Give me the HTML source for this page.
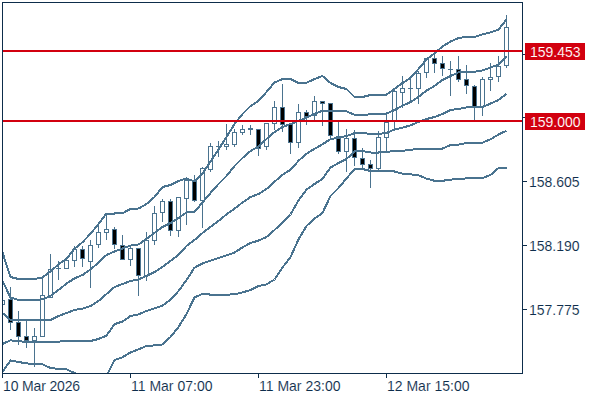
<!DOCTYPE html>
<html><head><meta charset="utf-8"><title>chart</title>
<style>
html,body{margin:0;padding:0;background:#fff;}
body{width:600px;height:400px;position:relative;overflow:hidden;font-family:"Liberation Sans",sans-serif;}
.t{position:absolute;font-size:14px;line-height:16px;height:16px;color:#0d2d4b;white-space:nowrap;}
.t{-webkit-text-stroke:0.1px #fff;}
.w{color:#fff;-webkit-text-stroke:0.1px #d2000f;}
</style></head><body>
<svg width="600" height="400" viewBox="0 0 600 400" style="position:absolute;left:0;top:0"><defs><clipPath id="cp"><rect x="2" y="2" width="521" height="372"/></clipPath></defs><g clip-path="url(#cp)"><g shape-rendering="crispEdges"><rect x="2" y="296" width="1" height="13" fill="#4a738f"/><rect x="0" y="300" width="5" height="5" fill="#4a738f"/><rect x="1" y="301" width="3" height="3" fill="#ffffff"/><rect x="10" y="287" width="1" height="43" fill="#4a738f"/><rect x="8" y="299" width="5" height="24" fill="#4a738f"/><rect x="9" y="300" width="3" height="22" fill="#000000"/><rect x="18" y="311" width="1" height="34" fill="#4a738f"/><rect x="16" y="322" width="5" height="15" fill="#4a738f"/><rect x="17" y="323" width="3" height="13" fill="#000000"/><rect x="26" y="319" width="1" height="29" fill="#4a738f"/><rect x="24" y="336" width="5" height="5" fill="#4a738f"/><rect x="25" y="337" width="3" height="3" fill="#000000"/><rect x="34" y="328" width="1" height="39" fill="#4a738f"/><rect x="32" y="336" width="5" height="5" fill="#4a738f"/><rect x="33" y="337" width="3" height="3" fill="#ffffff"/><rect x="42" y="277" width="1" height="60" fill="#4a738f"/><rect x="40" y="295" width="5" height="42" fill="#4a738f"/><rect x="41" y="296" width="3" height="40" fill="#ffffff"/><rect x="50" y="254" width="1" height="44" fill="#4a738f"/><rect x="48" y="269" width="5" height="29" fill="#4a738f"/><rect x="49" y="270" width="3" height="27" fill="#ffffff"/><rect x="58" y="261" width="1" height="19" fill="#4a738f"/><rect x="56" y="268" width="5" height="1" fill="#4a738f"/><rect x="66" y="260" width="1" height="9" fill="#4a738f"/><rect x="64" y="260" width="5" height="9" fill="#4a738f"/><rect x="65" y="261" width="3" height="7" fill="#ffffff"/><rect x="74" y="246" width="1" height="21" fill="#4a738f"/><rect x="72" y="249" width="5" height="12" fill="#4a738f"/><rect x="73" y="250" width="3" height="10" fill="#ffffff"/><rect x="82" y="246" width="1" height="21" fill="#4a738f"/><rect x="80" y="249" width="5" height="10" fill="#4a738f"/><rect x="81" y="250" width="3" height="8" fill="#000000"/><rect x="90" y="240" width="1" height="48" fill="#4a738f"/><rect x="88" y="245" width="5" height="17" fill="#4a738f"/><rect x="89" y="246" width="3" height="15" fill="#ffffff"/><rect x="98" y="224" width="1" height="24" fill="#4a738f"/><rect x="96" y="232" width="5" height="13" fill="#4a738f"/><rect x="97" y="233" width="3" height="11" fill="#ffffff"/><rect x="106" y="214" width="1" height="26" fill="#4a738f"/><rect x="104" y="229" width="5" height="4" fill="#4a738f"/><rect x="105" y="230" width="3" height="2" fill="#ffffff"/><rect x="114" y="227" width="1" height="22" fill="#4a738f"/><rect x="112" y="229" width="5" height="16" fill="#4a738f"/><rect x="113" y="230" width="3" height="14" fill="#000000"/><rect x="122" y="235" width="1" height="25" fill="#4a738f"/><rect x="120" y="245" width="5" height="15" fill="#4a738f"/><rect x="121" y="246" width="3" height="13" fill="#000000"/><rect x="130" y="246" width="1" height="20" fill="#4a738f"/><rect x="128" y="248" width="5" height="12" fill="#4a738f"/><rect x="129" y="249" width="3" height="10" fill="#ffffff"/><rect x="138" y="248" width="1" height="48" fill="#4a738f"/><rect x="136" y="248" width="5" height="28" fill="#4a738f"/><rect x="137" y="249" width="3" height="26" fill="#000000"/><rect x="146" y="232" width="1" height="49" fill="#4a738f"/><rect x="144" y="240" width="5" height="36" fill="#4a738f"/><rect x="145" y="241" width="3" height="34" fill="#ffffff"/><rect x="154" y="206" width="1" height="39" fill="#4a738f"/><rect x="152" y="213" width="5" height="28" fill="#4a738f"/><rect x="153" y="214" width="3" height="26" fill="#ffffff"/><rect x="162" y="199" width="1" height="23" fill="#4a738f"/><rect x="160" y="201" width="5" height="12" fill="#4a738f"/><rect x="161" y="202" width="3" height="10" fill="#ffffff"/><rect x="170" y="199" width="1" height="37" fill="#4a738f"/><rect x="168" y="201" width="5" height="30" fill="#4a738f"/><rect x="169" y="202" width="3" height="28" fill="#000000"/><rect x="178" y="197" width="1" height="40" fill="#4a738f"/><rect x="176" y="197" width="5" height="34" fill="#4a738f"/><rect x="177" y="198" width="3" height="32" fill="#ffffff"/><rect x="186" y="180" width="1" height="45" fill="#4a738f"/><rect x="184" y="180" width="5" height="19" fill="#4a738f"/><rect x="185" y="181" width="3" height="17" fill="#ffffff"/><rect x="194" y="175" width="1" height="27" fill="#4a738f"/><rect x="192" y="181" width="5" height="20" fill="#4a738f"/><rect x="193" y="182" width="3" height="18" fill="#000000"/><rect x="202" y="167" width="1" height="61" fill="#4a738f"/><rect x="200" y="168" width="5" height="33" fill="#4a738f"/><rect x="201" y="169" width="3" height="31" fill="#ffffff"/><rect x="210" y="143" width="1" height="29" fill="#4a738f"/><rect x="208" y="146" width="5" height="24" fill="#4a738f"/><rect x="209" y="147" width="3" height="22" fill="#ffffff"/><rect x="218" y="141" width="1" height="16" fill="#4a738f"/><rect x="216" y="146" width="5" height="1" fill="#4a738f"/><rect x="226" y="124" width="1" height="26" fill="#4a738f"/><rect x="224" y="144" width="5" height="3" fill="#4a738f"/><rect x="225" y="145" width="3" height="1" fill="#ffffff"/><rect x="234" y="129" width="1" height="18" fill="#4a738f"/><rect x="232" y="132" width="5" height="13" fill="#4a738f"/><rect x="233" y="133" width="3" height="11" fill="#ffffff"/><rect x="242" y="125" width="1" height="10" fill="#4a738f"/><rect x="240" y="129" width="5" height="4" fill="#4a738f"/><rect x="241" y="130" width="3" height="2" fill="#ffffff"/><rect x="250" y="125" width="1" height="10" fill="#4a738f"/><rect x="248" y="128" width="5" height="2" fill="#4a738f"/><rect x="258" y="129" width="1" height="27" fill="#4a738f"/><rect x="256" y="129" width="5" height="20" fill="#4a738f"/><rect x="257" y="130" width="3" height="18" fill="#000000"/><rect x="266" y="123" width="1" height="27" fill="#4a738f"/><rect x="264" y="123" width="5" height="24" fill="#4a738f"/><rect x="265" y="124" width="3" height="22" fill="#ffffff"/><rect x="274" y="101" width="1" height="29" fill="#4a738f"/><rect x="272" y="107" width="5" height="17" fill="#4a738f"/><rect x="273" y="108" width="3" height="15" fill="#ffffff"/><rect x="282" y="84" width="1" height="48" fill="#4a738f"/><rect x="280" y="107" width="5" height="18" fill="#4a738f"/><rect x="281" y="108" width="3" height="16" fill="#000000"/><rect x="290" y="124" width="1" height="30" fill="#4a738f"/><rect x="288" y="124" width="5" height="19" fill="#4a738f"/><rect x="289" y="125" width="3" height="17" fill="#000000"/><rect x="298" y="104" width="1" height="44" fill="#4a738f"/><rect x="296" y="112" width="5" height="31" fill="#4a738f"/><rect x="297" y="113" width="3" height="29" fill="#ffffff"/><rect x="306" y="110" width="1" height="15" fill="#4a738f"/><rect x="304" y="112" width="5" height="5" fill="#4a738f"/><rect x="305" y="113" width="3" height="3" fill="#000000"/><rect x="314" y="96" width="1" height="25" fill="#4a738f"/><rect x="312" y="101" width="5" height="15" fill="#4a738f"/><rect x="313" y="102" width="3" height="13" fill="#ffffff"/><rect x="322" y="101" width="1" height="25" fill="#4a738f"/><rect x="320" y="101" width="5" height="3" fill="#4a738f"/><rect x="321" y="102" width="3" height="1" fill="#000000"/><rect x="330" y="103" width="1" height="36" fill="#4a738f"/><rect x="328" y="103" width="5" height="33" fill="#4a738f"/><rect x="329" y="104" width="3" height="31" fill="#000000"/><rect x="338" y="122" width="1" height="32" fill="#4a738f"/><rect x="336" y="136" width="5" height="16" fill="#4a738f"/><rect x="337" y="137" width="3" height="14" fill="#000000"/><rect x="346" y="129" width="1" height="43" fill="#4a738f"/><rect x="344" y="138" width="5" height="14" fill="#4a738f"/><rect x="345" y="139" width="3" height="12" fill="#ffffff"/><rect x="354" y="130" width="1" height="36" fill="#4a738f"/><rect x="352" y="138" width="5" height="20" fill="#4a738f"/><rect x="353" y="139" width="3" height="18" fill="#000000"/><rect x="362" y="148" width="1" height="21" fill="#4a738f"/><rect x="360" y="158" width="5" height="7" fill="#4a738f"/><rect x="361" y="159" width="3" height="5" fill="#000000"/><rect x="370" y="160" width="1" height="28" fill="#4a738f"/><rect x="368" y="164" width="5" height="5" fill="#4a738f"/><rect x="369" y="165" width="3" height="3" fill="#000000"/><rect x="378" y="131" width="1" height="41" fill="#4a738f"/><rect x="376" y="137" width="5" height="32" fill="#4a738f"/><rect x="377" y="138" width="3" height="30" fill="#ffffff"/><rect x="386" y="112" width="1" height="40" fill="#4a738f"/><rect x="384" y="122" width="5" height="16" fill="#4a738f"/><rect x="385" y="123" width="3" height="14" fill="#ffffff"/><rect x="394" y="89" width="1" height="41" fill="#4a738f"/><rect x="392" y="91" width="5" height="31" fill="#4a738f"/><rect x="393" y="92" width="3" height="29" fill="#ffffff"/><rect x="402" y="76" width="1" height="32" fill="#4a738f"/><rect x="400" y="88" width="5" height="5" fill="#4a738f"/><rect x="401" y="89" width="3" height="3" fill="#ffffff"/><rect x="410" y="78" width="1" height="25" fill="#4a738f"/><rect x="408" y="88" width="5" height="1" fill="#4a738f"/><rect x="418" y="71" width="1" height="33" fill="#4a738f"/><rect x="416" y="73" width="5" height="16" fill="#4a738f"/><rect x="417" y="74" width="3" height="14" fill="#ffffff"/><rect x="426" y="58" width="1" height="20" fill="#4a738f"/><rect x="424" y="58" width="5" height="15" fill="#4a738f"/><rect x="425" y="59" width="3" height="13" fill="#ffffff"/><rect x="434" y="53" width="1" height="20" fill="#4a738f"/><rect x="432" y="58" width="5" height="6" fill="#4a738f"/><rect x="433" y="59" width="3" height="4" fill="#000000"/><rect x="442" y="56" width="1" height="20" fill="#4a738f"/><rect x="440" y="63" width="5" height="6" fill="#4a738f"/><rect x="441" y="64" width="3" height="4" fill="#000000"/><rect x="450" y="61" width="1" height="35" fill="#4a738f"/><rect x="448" y="69" width="5" height="1" fill="#4a738f"/><rect x="458" y="56" width="1" height="26" fill="#4a738f"/><rect x="456" y="69" width="5" height="11" fill="#4a738f"/><rect x="457" y="70" width="3" height="9" fill="#000000"/><rect x="466" y="65" width="1" height="29" fill="#4a738f"/><rect x="464" y="79" width="5" height="7" fill="#4a738f"/><rect x="465" y="80" width="3" height="5" fill="#000000"/><rect x="474" y="85" width="1" height="35" fill="#4a738f"/><rect x="472" y="86" width="5" height="21" fill="#4a738f"/><rect x="473" y="87" width="3" height="19" fill="#000000"/><rect x="482" y="77" width="1" height="39" fill="#4a738f"/><rect x="480" y="79" width="5" height="28" fill="#4a738f"/><rect x="481" y="80" width="3" height="26" fill="#ffffff"/><rect x="490" y="63" width="1" height="28" fill="#4a738f"/><rect x="488" y="77" width="5" height="3" fill="#4a738f"/><rect x="489" y="78" width="3" height="1" fill="#ffffff"/><rect x="498" y="56" width="1" height="26" fill="#4a738f"/><rect x="496" y="66" width="5" height="11" fill="#4a738f"/><rect x="497" y="67" width="3" height="9" fill="#ffffff"/><rect x="506" y="15" width="1" height="53" fill="#4a738f"/><rect x="504" y="27" width="5" height="39" fill="#4a738f"/><rect x="505" y="28" width="3" height="37" fill="#ffffff"/></g><g fill="none" stroke="#4a738f" stroke-width="2" stroke-linejoin="round" stroke-linecap="butt" shape-rendering="crispEdges"><polyline points="2.5,252.5 10.5,277 18.5,279 26.5,279 34.5,279 42.5,277.5 50.5,271.5 58.5,264.3 66.5,258.8 74.5,248.8 82.5,242.2 90.5,233.8 98.5,224 106.5,213.5 114.5,213.5 122.5,213.2 130.5,209 138.5,208.5 146.5,204 154.5,197 162.5,187 170.5,185 178.5,181 186.5,178.5 194.5,181.5 202.5,173.8 210.5,161.5 218.5,149.5 226.5,137 234.5,124 242.5,114 250.5,106 258.5,101 266.5,92 274.5,82.5 282.5,79 290.5,79 298.5,83 306.5,82.8 314.5,79 322.5,76 330.5,83 338.5,87 346.5,89 354.5,97 362.5,97 370.5,95 378.5,95 386.5,94.6 394.5,89 402.5,83 410.5,78 418.5,69 426.5,59.5 434.5,53.5 442.5,46.3 450.5,41.6 458.5,38 466.5,37 474.5,37 482.5,34.4 490.5,32.4 498.5,29.6 506.5,19.6"/><polyline points="2.5,281 10.5,297.5 18.5,300 26.5,300 34.5,300 42.5,299.4 50.5,296 58.5,290 66.5,283.6 74.5,278.4 82.5,275 90.5,269.5 98.5,262.5 106.5,255.0 114.5,251.5 122.5,248.5 130.5,245.6 138.5,244.4 146.5,239 154.5,233 162.5,227 170.5,223 178.5,218 186.5,212.4 194.5,212 202.5,202.5 210.5,193 218.5,184 226.5,176 234.5,166 242.5,158 250.5,151 258.5,146.5 266.5,139 274.5,132 282.5,127 290.5,124 298.5,121 306.5,117.7 314.5,114 322.5,110.6 330.5,111 338.5,111.2 346.5,111.4 354.5,114.8 362.5,114.8 370.5,114.4 378.5,114 386.5,113.6 394.5,110 402.5,105.8 410.5,102 418.5,97 426.5,90.5 434.5,86 442.5,80 450.5,76 458.5,72.4 466.5,72.2 474.5,71.8 482.5,70.4 490.5,67.6 498.5,64.4 506.5,56.3"/><polyline points="2.5,313 10.5,320 18.5,320 26.5,320.4 34.5,320.4 42.5,320.4 50.5,320 58.5,316 66.5,313 74.5,310 82.5,308.6 90.5,306 98.5,301 106.5,294 114.5,287 122.5,284 130.5,281 138.5,279.4 146.5,276 154.5,272 162.5,267 170.5,261 178.5,255 186.5,246 194.5,240 202.5,233 210.5,227 218.5,221 226.5,214.4 234.5,208.6 242.5,202.5 250.5,197 258.5,194 266.5,189 274.5,181.8 282.5,174.8 290.5,169.8 298.5,160.8 306.5,153.8 314.5,148.8 322.5,144.3 330.5,139.1 338.5,137.8 346.5,136 354.5,133.2 362.5,133 370.5,134 378.5,134 386.5,133 394.5,129.5 402.5,127.6 410.5,125.4 418.5,122 426.5,119 434.5,117 442.5,114 450.5,110 458.5,109 466.5,107.4 474.5,107 482.5,107 490.5,103.6 498.5,100 506.5,94"/><polyline points="2.5,344 10.5,340.3 18.5,341.2 26.5,342 34.5,342 42.5,342 50.5,342 58.5,341.6 66.5,341 74.5,341 82.5,341.4 90.5,341 98.5,339 106.5,335.6 114.5,324.2 122.5,321.5 130.5,316 138.5,314.4 146.5,311 154.5,308.4 162.5,305.6 170.5,299.8 178.5,291 186.5,280 194.5,267.7 202.5,263.4 210.5,260.6 218.5,258 226.5,255.4 234.5,252.6 242.5,247.4 250.5,243 258.5,240.6 266.5,237 274.5,230 282.5,222.4 290.5,214.5 298.5,200.3 306.5,189.7 314.5,184 322.5,178.8 330.5,167.5 338.5,163 346.5,159 354.5,151.5 362.5,151 370.5,152.5 378.5,152.5 386.5,152 394.5,151 402.5,150.8 410.5,149.8 418.5,148.8 426.5,149 434.5,149 442.5,148.6 450.5,145 458.5,144.6 466.5,143 474.5,143 482.5,142.6 490.5,139.3 498.5,134.5 506.5,130.7"/><polyline points="2.5,372 10.5,360.4 18.5,362 26.5,363.4 34.5,364 42.5,364.4 50.5,368 58.5,369 66.5,369.4 74.5,373 82.5,377 90.5,380 98.5,380 106.5,376 114.5,360 122.5,357.3 130.5,352.4 138.5,349.4 146.5,346 154.5,345.4 162.5,344.4 170.5,337 178.5,327 186.5,314 194.5,297.5 202.5,293.8 210.5,294.6 218.5,294.6 226.5,294.6 234.5,294.4 242.5,292.4 250.5,290 258.5,286 266.5,284.4 274.5,279.5 282.5,267.5 290.5,257 298.5,239.5 306.5,226 314.5,218.5 322.5,213 330.5,196 338.5,188 346.5,178.5 354.5,169 362.5,169 370.5,171 378.5,171 386.5,171 394.5,171.5 402.5,173.6 410.5,174.3 418.5,175.3 426.5,178.6 434.5,180.8 442.5,180.8 450.5,179.6 458.5,179 466.5,178.4 474.5,178 482.5,178 490.5,175 498.5,168 506.5,168"/></g><g shape-rendering="crispEdges"><rect x="2" y="50" width="520" height="2" fill="#d2000f"/><rect x="2" y="120" width="520" height="2" fill="#d2000f"/></g></g><g shape-rendering="crispEdges" fill="#0d2d4b"><rect x="2" y="2" width="521" height="1"/><rect x="2" y="2" width="1" height="372"/><rect x="522" y="2" width="1" height="372"/><rect x="2" y="373" width="521" height="1"/><rect x="523" y="54" width="4" height="1"/><rect x="523" y="117" width="4" height="1"/><rect x="523" y="181" width="4" height="1"/><rect x="523" y="245" width="4" height="1"/><rect x="523" y="309" width="4" height="1"/><rect x="2" y="374" width="1" height="4"/><rect x="130" y="374" width="1" height="4"/><rect x="258" y="374" width="1" height="4"/><rect x="386" y="374" width="1" height="4"/></g><g shape-rendering="crispEdges"><rect x="525" y="43" width="60" height="17" fill="#d2000f"/><rect x="525" y="113" width="60" height="17" fill="#d2000f"/></g></svg>
<div class="t w" style="left:530px;top:44px;">159.453</div>
<div class="t w" style="left:530px;top:114px;">159.000</div>
<div class="t" style="left:529px;top:174px;">158.605</div>
<div class="t" style="left:529px;top:238px;">158.190</div>
<div class="t" style="left:529px;top:302px;">157.775</div>
<div class="t" style="left:3px;top:378px;letter-spacing:-0.15px;">10 Mar 2026</div>
<div class="t" style="left:131px;top:378px;">11 Mar 07:00</div>
<div class="t" style="left:259px;top:378px;">11 Mar 23:00</div>
<div class="t" style="left:387px;top:378px;">12 Mar 15:00</div>
</body></html>
